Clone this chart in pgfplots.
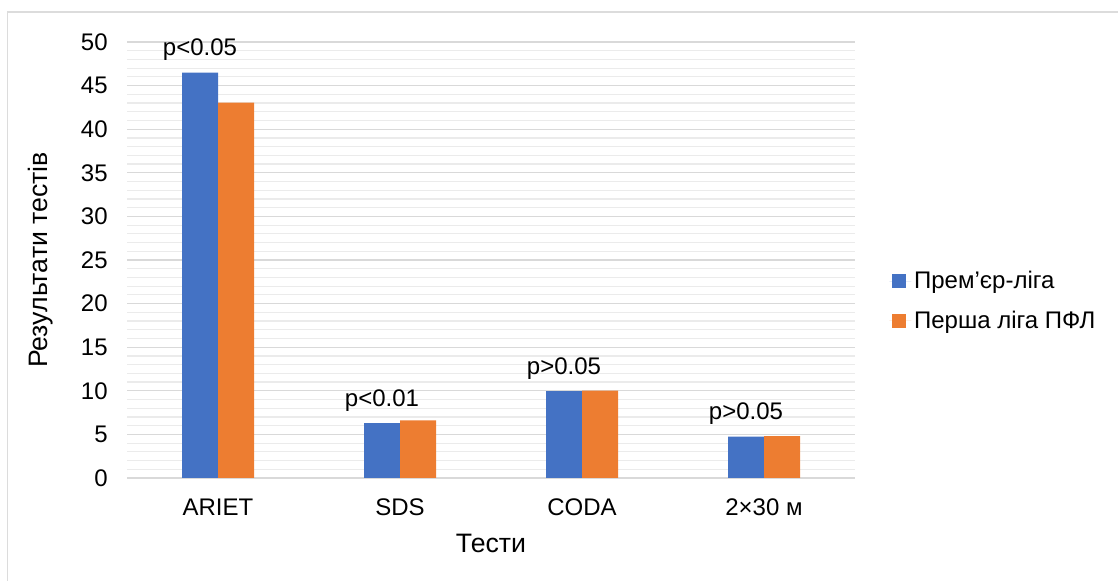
\documentclass[border=0pt]{standalone}
\usepackage{fontspec}
\setmainfont{Liberation Sans}
\usepackage{pgfplots}
\pgfplotsset{compat=1.18}
\definecolor{cblue}{HTML}{4472C4}
\definecolor{corange}{HTML}{ED7D31}
\definecolor{gmaj}{HTML}{D9D9D9}
\definecolor{gmin}{HTML}{EBEBEB}
\definecolor{frame}{HTML}{DCDCDC}
\begin{document}
\begin{tikzpicture}
\path[use as bounding box] (0,0) rectangle (838.5pt,435.75pt);
\draw[frame, line width=1.2pt] (5.5pt,0pt) -- (5.5pt,426.75pt) -- (838.5pt,426.75pt);
\begin{axis}[
  at={(95.25pt,77.25pt)}, anchor=south west,
  scale only axis, width=546pt, height=327pt,
  xmin=-0.5, xmax=3.5, ymin=0, ymax=50,
  ybar=0pt, bar width=27pt,
  axis line style={draw=none},
  tick style={draw=none},
  xtick={0,1,2,3},
  xticklabels={ARIET,SDS,CODA,2×30 м},
  ytick={0,5,...,50},
  minor y tick num=4,
  ymajorgrids, yminorgrids,
  major grid style={gmaj, line width=0.9pt},
  minor grid style={gmin, line width=0.9pt},
  /pgf/number format/assume math mode=true,
  tick label style={font=\fontsize{18}{21}\selectfont},
  yticklabel style={xshift=-11pt},
  xticklabel style={anchor=base, yshift=-23.5pt},
  xlabel={Тести},
  ylabel={Результати тестів},
  label style={font=\fontsize{20}{24}\selectfont},
  xlabel style={at={(axis description cs:0.5,-0.149)}, anchor=center},
  ylabel style={at={(axis description cs:-0.118,0.5)}, anchor=center},
  legend cell align=left,
  legend style={at={(axis description cs:1.047,0.406)}, anchor=west,
    draw=none, fill=none, inner sep=0pt, row sep=11pt,
    font=\fontsize{18}{21}\selectfont,
    nodes={inner sep=2pt}},
  legend image code/.code={\fill[#1,draw=none] (2.25pt,-5.25pt) rectangle (12.75pt,5.25pt); \path (0pt,0pt) -- (16.5pt,0pt);},
  every node near coord/.append style={anchor=center, yshift=17pt, font=\fontsize{18}{21}\selectfont, text=black},
]
\addplot[fill=cblue, draw=none, nodes near coords, point meta=explicit symbolic]
  coordinates {(0,46.5) [p<0.05] (1,6.3) [p<0.01] (2,9.95) [p>0.05] (3,4.73) [p>0.05]};
\addplot[fill=corange, draw=none]
  coordinates {(0,43.05) (1,6.6) (2,10.02) (3,4.8)};
\legend{Прем’єр-ліга, Перша ліга ПФЛ}
\end{axis}
\end{tikzpicture}
\end{document}
